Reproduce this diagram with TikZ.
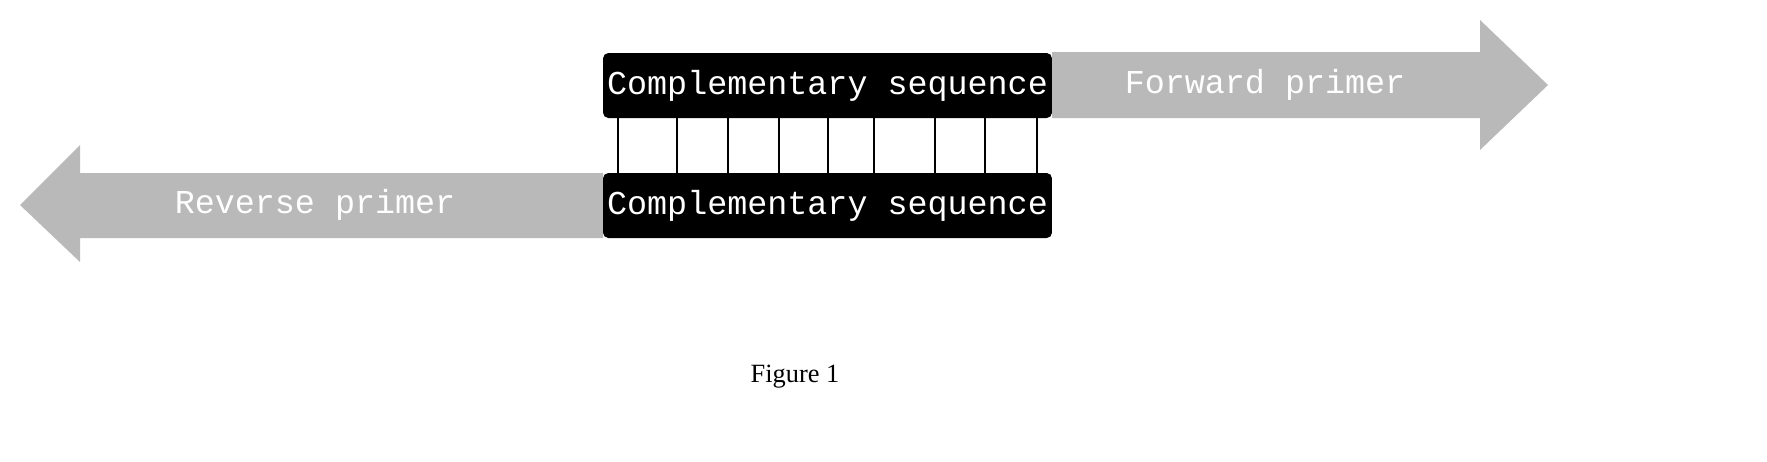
\documentclass[tikz,border=0pt]{standalone}
\usepackage{fontspec}
\setmainfont{Liberation Serif}
\newfontfamily\seqfont{Liberation Mono}
\begin{document}
\begin{tikzpicture}[x=0.02cm,y=-0.02cm,
    seqbox/.style={fill=black,rounded corners=3pt,text=white,font=\seqfont\fontsize{19}{22}\selectfont,
      minimum width=8.98cm,minimum height=1.3cm,inner sep=0pt},
    primer/.style={fill=gray!55},
    primertext/.style={text=white,font=\seqfont\fontsize{19}{22}\selectfont}]

    \useasboundingbox (0,0) rectangle (1767,461);

    % Pfeile (Primer)
    \fill[primer] (1052,52) -- (1480,52) -- (1480,20) -- (1548,85) -- (1480,150)
        -- (1480,118) -- (1052,118) -- cycle;   % Forward
    \fill[primer] (603,173) -- (80,173) -- (80,145) -- (20,205) -- (80,262)
        -- (80,238) -- (603,238) -- cycle;      % Reverse

    % Sequenzen
    \node[seqbox] (top) at (827.5,85.5) {Complementary sequence};
    \node[seqbox] (bot) at (827.5,205.5) {Complementary sequence};

    % Basenpaare
    \foreach \x in {618,677,728,779,828,874,935,985,1037}
        \draw[line width=1.6pt] (\x,118) -- (\x,173);

    % Labels
    \node[primertext] (fwd) at (1265,85) {Forward primer};
    \node[primertext] (rev) at (315,205) {Reverse primer};
    \node[font=\fontsize{15}{18}\selectfont] (cap) at (795,377) {Figure 1};

\end{tikzpicture}
\end{document}
